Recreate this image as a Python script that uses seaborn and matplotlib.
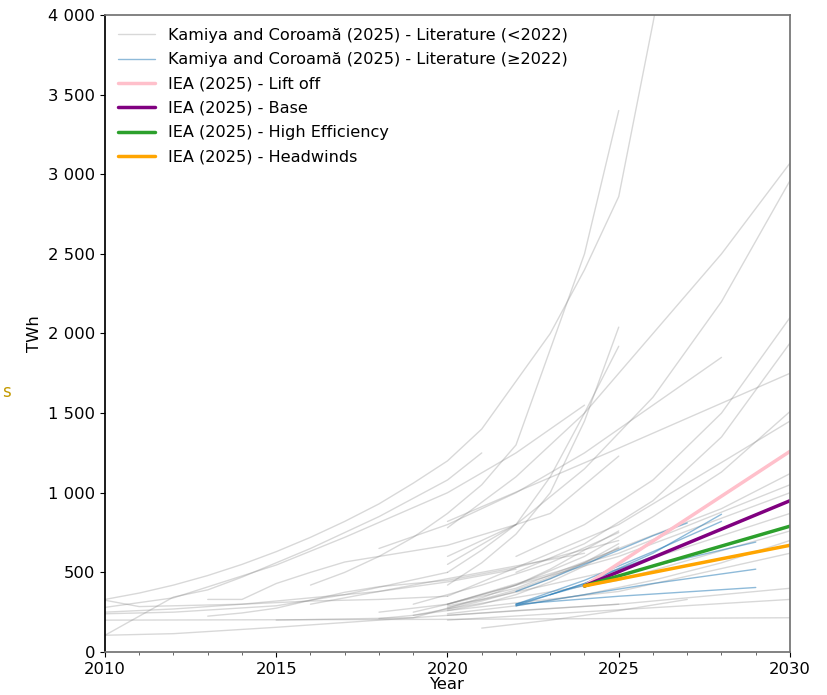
import pandas as pd
import matplotlib.pyplot as plt
import seaborn as sns
from matplotlib.lines import Line2D
from matplotlib.ticker import FuncFormatter, MultipleLocator

# Kamiya and Coroamă (2025) - literature estimates published before 2022 (year, TWh)
lit_old = [
    ([2010, 2011, 2012, 2013, 2014, 2015, 2016, 2017, 2018, 2019, 2020, 2021, 2022, 2023, 2024, 2025, 2026, 2027],
     [330, 370, 420, 480, 550, 630, 720, 820, 930, 1060, 1200, 1400, 1700, 2000, 2400, 2860, 3950, 5100]),
    ([2016, 2017, 2018, 2019, 2020, 2021, 2022, 2023, 2024, 2025],
     [420, 500, 600, 720, 870, 1050, 1300, 1900, 2500, 3400]),
    ([2020, 2021, 2022, 2023, 2024, 2025], [420, 560, 740, 1000, 1450, 2040]),
    ([2020, 2021, 2022, 2023, 2024, 2025], [500, 640, 800, 1100, 1500, 1920]),
    ([2020, 2022, 2024, 2026, 2028, 2030], [780, 1100, 1500, 2000, 2500, 3070]),
    ([2020, 2022, 2024, 2026, 2028, 2030], [550, 800, 1150, 1600, 2200, 2960]),
    ([2020, 2025, 2030], [820, 1280, 1750]),
    ([2022, 2024, 2026, 2028, 2030], [600, 800, 1080, 1500, 2100]),
    ([2022, 2024, 2026, 2028, 2030], [500, 680, 950, 1350, 1940]),
    ([2020, 2022, 2024, 2026, 2028, 2030], [300, 420, 600, 850, 1130, 1510]),
    ([2020, 2025, 2030], [350, 800, 1450]),
    ([2019, 2022, 2025, 2028, 2030], [250, 400, 650, 900, 1120]),
    ([2020, 2025, 2030], [300, 620, 1050]),
    ([2018, 2020, 2022, 2025, 2030], [250, 300, 420, 600, 1000]),
    ([2020, 2025, 2030], [280, 520, 870]),
    ([2020, 2025, 2030], [270, 450, 760]),
    ([2020, 2025, 2030], [260, 380, 620]),
    ([2020, 2025, 2030], [230, 300, 400]),
    ([2020, 2030], [200, 330]),
    ([2010, 2020, 2030], [200, 205, 215]),
    ([2010, 2012, 2015, 2018, 2020, 2022, 2025], [105, 115, 155, 200, 230, 260, 300]),
    ([2013, 2014, 2015, 2016, 2017, 2018, 2020, 2022], [330, 330, 430, 500, 565, 600, 670, 800]),
    ([2013, 2014, 2015, 2017, 2018, 2020, 2022, 2025], [225, 245, 275, 375, 410, 450, 530, 700]),
    ([2015, 2019, 2020, 2021, 2022, 2023, 2024, 2025], [200, 215, 275, 340, 420, 520, 640, 760]),
    ([2010, 2011, 2012, 2014, 2016, 2018, 2020], [325, 285, 290, 300, 320, 330, 350]),
    ([2010, 2012, 2014, 2016, 2018, 2020, 2022], [250, 270, 300, 340, 380, 440, 520]),
    ([2010, 2012, 2015, 2017, 2020], [240, 250, 290, 360, 500]),
    ([2010, 2012, 2013, 2014, 2016, 2018, 2020, 2021], [105, 345, 390, 470, 650, 850, 1080, 1250]),
    ([2010, 2012, 2015, 2017, 2020, 2022, 2024], [280, 340, 546, 720, 1000, 1250, 1550]),
    ([2018, 2020, 2022, 2024, 2025, 2028], [650, 800, 1000, 1250, 1400, 1850]),
    ([2020, 2022, 2023, 2025], [600, 800, 870, 1230]),
    ([2019, 2021, 2023, 2025], [300, 420, 560, 750]),
    ([2018, 2019, 2020, 2021, 2022, 2023, 2024, 2025], [210, 230, 260, 300, 360, 440, 540, 660]),
    ([2019, 2020, 2021, 2022, 2023, 2024, 2025], [230, 270, 320, 380, 460, 560, 680]),
    ([2020, 2021, 2022, 2023, 2024, 2025], [290, 330, 390, 470, 560, 650]),
    ([2020, 2022, 2024, 2026, 2028, 2030], [240, 290, 360, 450, 560, 700]),
    ([2021, 2023, 2025, 2027], [150, 200, 260, 330]),
    ([2016, 2018, 2020, 2022, 2024], [300, 380, 460, 540, 620]),
]

# Kamiya and Coroamă (2025) - literature estimates published from 2022 on
lit_new = [
    ([2022, 2023, 2024, 2025, 2026, 2027], [380, 460, 550, 640, 730, 810]),
    ([2022, 2024, 2026, 2028], [300, 450, 630, 820]),
    ([2022, 2024, 2026, 2028], [290, 430, 620, 865]),
    ([2022, 2024, 2026, 2029], [300, 420, 540, 690]),
    ([2022, 2024, 2026, 2029], [290, 360, 430, 520]),
    ([2022, 2025, 2029], [300, 350, 405]),
    ([2023, 2024, 2025, 2026], [360, 430, 520, 600]),
]

# IEA (2025) Energy and AI scenarios
iea_years = [2024, 2030]
iea_lift_off = [415, 1260]
iea_base = [415, 950]
iea_high_eff = [415, 790]
iea_headwinds = [415, 670]

label_old = "Kamiya and Coroamă (2025) - Literature (<2022)"
label_new = "Kamiya and Coroamă (2025) - Literature (≥2022)"
iea_labels = ["IEA (2025) - Lift off", "IEA (2025) - Base",
              "IEA (2025) - High Efficiency", "IEA (2025) - Headwinds"]
iea_colors = ["pink", "purple", "tab:green", "orange"]


def to_long(series):
    rows = []
    for i, (yrs, vals) in enumerate(series):
        for y, v in zip(yrs, vals):
            rows.append({"id": i, "year": y, "twh": v})
    return pd.DataFrame(rows)


df_old = to_long(lit_old)
df_new = to_long(lit_new)
df_iea = pd.DataFrame({
    "year": iea_years * 4,
    "twh": iea_lift_off + iea_base + iea_high_eff + iea_headwinds,
    "scenario": [lab for lab in iea_labels for _ in iea_years],
})

sns.set_theme(style="ticks")
plt.rcParams["font.family"] = ["DejaVu Sans"]
plt.rcParams["text.color"] = "black"
plt.rcParams["axes.labelcolor"] = "black"

fig = plt.figure(figsize=(8.28, 6.95), dpi=100)
ax = fig.add_axes([0.1268, 0.0619, 0.8273, 0.9165])

sns.lineplot(data=df_old, x="year", y="twh", units="id", estimator=None, sort=False,
             color="gray", alpha=0.3, lw=1, legend=False, ax=ax)
sns.lineplot(data=df_new, x="year", y="twh", units="id", estimator=None, sort=False,
             color="tab:blue", alpha=0.5, lw=1, legend=False, ax=ax)
sns.lineplot(data=df_iea, x="year", y="twh", hue="scenario", hue_order=iea_labels,
             palette=dict(zip(iea_labels, iea_colors)), lw=2.5, legend=False, ax=ax)

ax.set_xlim(2010, 2030)
ax.set_ylim(0, 4000)
ax.xaxis.set_major_locator(MultipleLocator(5))
ax.xaxis.set_minor_locator(MultipleLocator(1))
ax.yaxis.set_major_locator(MultipleLocator(500))
ax.yaxis.set_major_formatter(FuncFormatter(lambda v, p: f"{v:,.0f}".replace(",", " ")))
ax.tick_params(which="major", labelsize=11.8, colors="black", length=3.5, width=0.8)
ax.tick_params(which="minor", colors="0.3", length=2, width=0.6)
ax.set_xlabel("Year", fontsize=11.8, labelpad=0)
ax.set_ylabel("TWh", fontsize=11.8)
for side in ["top", "right", "bottom"]:
    ax.spines[side].set_color("0.45")
ax.spines["left"].set_color("black")

handles = [Line2D([], [], color="gray", alpha=0.3, lw=1),
           Line2D([], [], color="tab:blue", alpha=0.5, lw=1)]
handles += [Line2D([], [], color=c, lw=2.5) for c in iea_colors]
ax.legend(handles, [label_old, label_new] + iea_labels, loc="upper left",
          frameon=False, fontsize=11.6, handlelength=2.3, labelspacing=0.58,
          borderaxespad=0.4)

# clipped fragment of a neighbouring label
fig.text(0.003, 0.436, "s", color="#c49a00", fontsize=12, ha="left", va="center")

fig.savefig("out.png", dpi=100)
